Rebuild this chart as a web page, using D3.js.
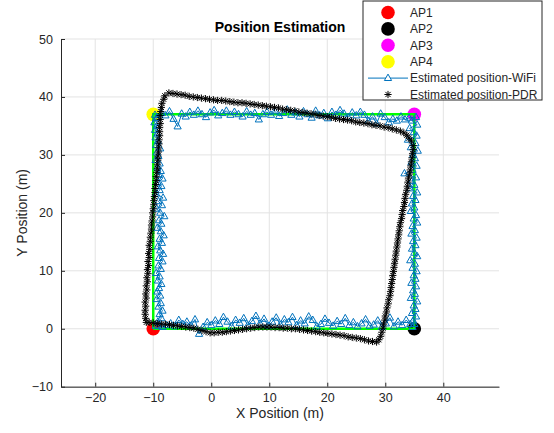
<!DOCTYPE html>
<html>
<head>
<meta charset="utf-8">
<script src="https://cdn.jsdelivr.net/npm/d3@7"></script>
<style>
  body { margin: 0; background: #fff; }
  text { font-family: "Liberation Sans", Arial, sans-serif; fill: #262626; }
</style>
</head>
<body>
<div id="chart"></div>
<script>
// access points
const apNames = ["AP1", "AP2", "AP3", "AP4"];
const apX = [-10, 35, 35, -10];
const apY = [0, 0, 37, 37];
const apColors = ["#ff0000", "#000000", "#ff00ff", "#ffff00"];

// ground truth walk (green)
const truthX = [-10, -10, 35, 35, -10];
const truthY = [0, 37, 37, 0, 0];

// WiFi estimates: left side up, top, right side down, bottom
const wifiX = [
  -9.6, -9.2, -8.6, -8.9, -8.4, -9.1, -8.7, -9.4, -8.8, -9.3, -9.0, -8.6, -9.2, -8.9, -9.5, -8.7, -9.1, -8.4, -9.0,
  -8.3, -8.8, -9.2, -8.5, -8.9, -8.2, -8.7, -9.3, -8.6, -9.0, -8.1, -8.8, -9.4, -8.5, -9.1, -8.3, -9.5, -8.9, -8.6,
  -9.2, -8.4, -9.0, -8.7, -9.3, -8.9, -9.6, -9.1, -9.4, -8.8, -9.5, -9.2, -9.6, -9.3, -9.7, -9.4, -9.8, -9.5, -9.7,
  -9.3, -8.6, -7.9, -7.2, -6.5, -5.8, -5.1, -4.4, -3.7, -3.0, -2.3, -1.6, -0.9, -0.2, 0.5, 1.2, 1.9, 2.6, 3.3, 4.0,
  4.7, 5.4, 6.1, 6.8, 7.5, 8.2, 8.9, 9.6, 10.3, 11.0, 11.7, 12.4, 13.1, 13.8, 14.5, 15.2, 15.9, 16.6, 17.3, 18.0,
  18.7, 19.4, 20.1, 20.8, 21.5, 22.2, 22.9, 23.6, 24.3, 25.0, 25.7, 26.4, 27.1, 27.8, 28.5, 29.2, 29.9, 30.6, 31.3,
  32.0, 32.7, 33.4, 34.1,
  35.3, 34.6, 35.5, 34.2, 34.9, 35.4, 33.9, 35.2, 34.4, 35.6, 34.8, 35.1, 34.5, 35.4, 34.7, 33.3, 35.3, 34.6, 35.0,
  34.3, 35.5, 34.8, 35.2, 34.6, 35.0, 34.4, 35.3, 34.9, 35.5, 34.7, 35.1, 34.5, 35.4, 34.8, 35.2, 34.6, 35.0, 35.5,
  34.3, 35.1, 34.7, 35.4, 34.9, 35.2, 34.5, 35.3, 34.8, 35.1, 34.4, 35.5, 34.9, 35.2, 34.6, 35.3, 34.8, 35.0, 34.7,
  34.3, 33.6, 32.9, 32.2, 31.5, 30.8, 30.1, 29.4, 28.7, 28.0, 27.3, 26.6, 25.9, 25.2, 24.5, 23.8, 23.1, 22.4, 21.7,
  21.0, 20.3, 19.6, 18.9, 18.2, 17.5, 16.8, 16.1, 15.4, 14.7, 14.0, 13.3, 12.6, 11.9, 11.2, 10.5, 9.8, 9.1, 8.4, 7.7,
  7.0, 6.3, 5.6, 4.9, 4.2, 3.5, 2.8, 2.1, 1.4, 0.7, 0.0, -0.7, -1.4, -2.1, -2.8, -3.5, -4.2, -4.9, -5.6, -6.3, -7.0,
  -7.7, -8.4, -9.1
];
const wifiY = [
  0.5, 1.2, 1.8, 2.5, 3.1, 3.8, 4.4, 5.1, 5.7, 6.4, 7.0, 7.7, 8.3, 9.0, 9.6, 10.3, 10.9, 11.6, 12.2, 12.9, 13.5,
  14.2, 14.8, 15.5, 16.1, 16.8, 17.4, 18.1, 18.7, 19.4, 20.0, 20.7, 21.3, 22.0, 22.6, 23.3, 23.9, 24.6, 25.2, 25.9,
  26.5, 27.2, 27.8, 28.5, 29.1, 29.8, 30.4, 31.1, 31.7, 32.4, 33.0, 33.7, 34.3, 35.0, 35.6, 36.3, 36.9,
  36.4, 37.2, 36.8, 37.5, 36.2, 34.9, 37.1, 36.6, 37.4, 36.9, 37.6, 37.0, 36.5, 37.3, 37.7, 36.8, 37.2, 37.6, 36.9,
  37.4, 37.0, 36.6, 37.5, 36.9, 37.2, 36.1, 37.0, 37.4, 36.9, 37.5, 36.7, 37.2, 37.8, 36.9, 37.3, 36.6, 37.5, 37.0,
  36.4, 37.6, 36.8, 37.2, 36.3, 37.4, 36.9, 37.7, 37.1, 36.5, 37.3, 36.8, 37.4, 36.9, 35.8, 36.6, 35.4, 37.1, 36.5,
  35.6, 36.2, 35.9, 36.6, 36.1, 36.4,
  36.5, 35.9, 35.2, 34.6, 33.9, 33.3, 32.6, 32.0, 31.3, 30.7, 30.0, 29.4, 28.7, 28.1, 27.4, 26.8, 26.1, 25.5, 24.8,
  24.2, 23.5, 22.9, 22.2, 21.6, 20.9, 20.3, 19.6, 19.0, 18.3, 17.7, 17.0, 16.4, 15.7, 15.1, 14.4, 13.8, 13.1, 12.5,
  11.8, 11.2, 10.5, 9.9, 9.2, 8.6, 7.9, 7.3, 6.6, 6.0, 5.3, 4.7, 4.0, 3.4, 2.7, 2.1, 1.4, 0.8, 0.3,
  0.8, 1.5, 0.6, 1.2, 0.4, 1.9, 0.9, 0.3, 1.4, 0.7, 0.5, 1.6, 0.9, 0.4, 1.1, 0.6, 1.8, 0.8, 1.3, 0.5, 1.0, 1.7, 0.8,
  0.4, 1.5, 2.1, 0.9, 1.4, 0.6, 2.0, 1.1, 1.6, 0.7, 1.9, 1.2, 0.5, 1.7, 0.9, 2.2, 1.3, 0.6, 1.8, 1.0, 1.5, 0.4, 1.2,
  2.0, 0.8, 1.4, 0.6, 1.1, 0.3, -0.9, 1.6, 0.5, 1.2, 0.8, 1.5, 0.4, 0.9, 0.6, 0.3, 0.5
];

// PDR estimates, same order
const pdrX = [
  -11.2, -11.3, -11.4, -11.4, -11.3, -11.4, -11.2, -11.3, -11.1, -11.2, -11.0, -11.1, -10.9, -11.0, -10.8, -10.9,
  -10.7, -10.8, -10.6, -10.7, -10.5, -10.5, -10.4, -10.3, -10.3, -10.2, -10.1, -10.1, -10.0, -9.9, -9.9, -9.8, -9.7,
  -9.7, -9.6, -9.5, -9.5, -9.4, -9.3, -9.3, -9.2, -9.2, -9.1, -9.1, -9.0, -9.0, -8.9, -8.9, -8.9, -8.8, -8.8, -8.8,
  -8.7, -8.6, -8.5, -8.2, -8.0,
  -7.3, -6.6, -5.9, -5.2, -4.5, -3.8, -3.1, -2.4, -1.7, -1.0, -0.3, 0.4, 1.1, 1.8, 2.5, 3.2, 3.9, 4.6, 5.3, 6.0, 6.7,
  7.4, 8.1, 8.8, 9.5, 10.2, 10.9, 11.6, 12.3, 13.0, 13.7, 14.4, 15.1, 15.8, 16.5, 17.2, 17.9, 18.6, 19.3, 20.0, 20.7,
  21.4, 22.1, 22.8, 23.5, 24.2, 24.9, 25.6, 26.3, 27.0, 27.7, 28.4, 29.1, 29.8, 30.5, 31.2, 31.9, 32.6, 33.2, 33.7,
  34.1, 34.5,
  34.8, 34.8, 34.7, 34.6, 34.5, 34.4, 34.3, 34.2, 34.0, 33.9, 33.8, 33.7, 33.5, 33.4, 33.3, 33.2, 33.0, 32.9, 32.8,
  32.6, 32.5, 32.4, 32.3, 32.2, 32.1, 32.0, 31.9, 31.8, 31.7, 31.6, 31.5, 31.4, 31.3, 31.2, 31.1, 31.0, 30.9, 30.8,
  30.6, 30.5, 30.3, 30.2, 30.0, 29.9, 29.7, 29.6, 29.4, 29.2, 28.9, 28.5,
  27.8, 27.1, 26.4, 25.7, 25.0, 24.3, 23.6, 22.9, 22.2, 21.5, 20.8, 20.1, 19.4, 18.7, 18.0, 17.3, 16.6, 15.9, 15.2,
  14.5, 13.8, 13.1, 12.4, 11.7, 11.0, 10.3, 9.6, 8.9, 8.2, 7.5, 6.8, 6.1, 5.4, 4.7, 4.0, 3.3, 2.6, 1.9, 1.2, 0.5,
  -0.2, -0.9, -1.6, -2.3, -3.0, -3.7, -4.4, -5.1, -5.8, -6.5, -7.2, -7.9, -8.6, -9.3, -10.0, -10.7
];
const pdrY = [
  1.1, 1.8, 2.5, 3.2, 3.9, 4.6, 5.3, 6.0, 6.7, 7.4, 8.1, 8.8, 9.5, 10.2, 10.9, 11.6, 12.3, 13.0, 13.7, 14.4, 15.1,
  15.8, 16.5, 17.2, 17.9, 18.6, 19.3, 20.0, 20.7, 21.4, 22.1, 22.8, 23.5, 24.2, 24.9, 25.6, 26.3, 27.0, 27.7, 28.4,
  29.1, 29.8, 30.5, 31.2, 31.9, 32.6, 33.3, 34.0, 34.7, 35.4, 36.1, 36.8, 37.5, 38.2, 38.9, 39.6, 40.2,
  40.7, 40.6, 40.5, 40.4, 40.3, 40.1, 40.0, 39.9, 39.8, 39.7, 39.6, 39.5, 39.4, 39.4, 39.3, 39.2, 39.1, 39.0, 39.0,
  38.9, 38.8, 38.7, 38.6, 38.5, 38.4, 38.3, 38.2, 38.1, 37.9, 37.8, 37.7, 37.6, 37.4, 37.3, 37.2, 37.1, 37.0, 36.8,
  36.7, 36.6, 36.5, 36.3, 36.2, 36.1, 36.0, 35.9, 35.7, 35.6, 35.5, 35.4, 35.2, 35.1, 35.0, 34.8, 34.7, 34.5, 34.3,
  34.1, 33.8, 33.4, 32.9, 32.4,
  31.6, 30.9, 30.2, 29.5, 28.8, 28.1, 27.4, 26.7, 26.0, 25.3, 24.6, 23.9, 23.2, 22.5, 21.8, 21.1, 20.4, 19.7, 19.0,
  18.3, 17.6, 16.9, 16.2, 15.5, 14.8, 14.1, 13.4, 12.7, 12.0, 11.3, 10.6, 9.9, 9.2, 8.5, 7.8, 7.1, 6.4, 5.7, 5.0, 4.3,
  3.6, 2.9, 2.2, 1.5, 0.8, 0.1, -0.6, -1.3, -1.9, -2.3,
  -2.2, -2.1, -1.9, -1.7, -1.6, -1.5, -1.4, -1.2, -1.1, -1.0, -0.9, -0.8, -0.7, -0.6, -0.5, -0.4, -0.3, -0.2, -0.1,
  0.0, 0.0, 0.1, 0.1, 0.2, 0.2, 0.3, 0.3, 0.3, 0.3, 0.2, 0.1, 0.0, -0.1, -0.2, -0.3, -0.4, -0.5, -0.6, -0.6, -0.7,
  -0.7, -0.5, -0.3, -0.1, 0.1, 0.2, 0.3, 0.4, 0.5, 0.6, 0.7, 0.8, 0.8, 0.9, 1.0, 1.1
];

const xTicks = [-20, -10, 0, 10, 20, 30, 40];
const yTicks = [-10, 0, 10, 20, 30, 40, 50];
const legendLabels = ["AP1", "AP2", "AP3", "AP4", "Estimated position-WiFi", "Estimated position-PDR"];

const width = 554, height = 433;
const plotLeft = 61, plotRight = 499, plotTop = 39, plotBottom = 386.7;
const wifiColor = "#0072BD";

const svg = d3.select("#chart").append("svg")
  .attr("width", width)
  .attr("height", height);

const x = d3.scaleLinear().domain([-25.9, 49.6]).range([plotLeft, plotRight]);
const y = d3.scaleLinear().domain([-10, 50]).range([plotBottom, plotTop]);

// grid
svg.append("g").selectAll("line").data(xTicks).enter().append("line")
  .attr("x1", d => x(d)).attr("x2", d => x(d))
  .attr("y1", plotTop).attr("y2", plotBottom)
  .attr("stroke", "#e3e3e3").attr("stroke-width", 1);
svg.append("g").selectAll("line").data(yTicks).enter().append("line")
  .attr("x1", plotLeft).attr("x2", plotRight)
  .attr("y1", d => y(d)).attr("y2", d => y(d))
  .attr("stroke", "#e3e3e3").attr("stroke-width", 1);

// axes (ticks pointing inward like MATLAB)
const xAxis = svg.append("g")
  .attr("transform", `translate(0,${plotBottom})`)
  .call(d3.axisBottom(x).tickValues(xTicks).tickSizeInner(-4).tickSizeOuter(0).tickPadding(6));
const yAxis = svg.append("g")
  .attr("transform", `translate(${plotLeft},0)`)
  .call(d3.axisLeft(y).tickValues(yTicks).tickSizeInner(-4).tickSizeOuter(0).tickPadding(8));
[xAxis, yAxis].forEach(a => {
  a.select(".domain").attr("stroke", "#262626");
  a.selectAll(".tick line").attr("stroke", "#262626");
  a.selectAll(".tick text").style("font-size", "12.5px").attr("fill", "#262626")
    .style("font-family", '"Liberation Sans", Arial, sans-serif');
});

// access point markers
svg.append("g").selectAll("circle").data(apX).enter().append("circle")
  .attr("cx", d => x(d))
  .attr("cy", (d, i) => y(apY[i]))
  .attr("r", 6.8)
  .attr("fill", (d, i) => apColors[i]);

// ground truth
const line = d3.line().x(d => x(d[0])).y(d => y(d[1]));
svg.append("path")
  .datum(truthX.map((d, i) => [d, truthY[i]]))
  .attr("d", line)
  .attr("fill", "none")
  .attr("stroke", "#00ff00")
  .attr("stroke-width", 2.5);

// WiFi
const wifiPts = wifiX.map((d, i) => [d, wifiY[i]]);
svg.append("path")
  .datum(wifiPts)
  .attr("d", line)
  .attr("fill", "none")
  .attr("stroke", wifiColor)
  .attr("stroke-width", 1);
const triangle = "M0,-4L3.6,2.4L-3.6,2.4Z";
svg.append("g").selectAll("path").data(wifiPts).enter().append("path")
  .attr("d", triangle)
  .attr("transform", d => `translate(${x(d[0])},${y(d[1])})`)
  .attr("fill", "none")
  .attr("stroke", wifiColor)
  .attr("stroke-width", 1);

// PDR
const star = "M-3.6,0H3.6M0,-3.6V3.6M-2.6,-2.6L2.6,2.6M-2.6,2.6L2.6,-2.6";
svg.append("g").selectAll("path").data(pdrX).enter().append("path")
  .attr("d", star)
  .attr("transform", (d, i) => `translate(${x(d)},${y(pdrY[i])})`)
  .attr("stroke", "#000")
  .attr("stroke-width", 1);

// title and labels
svg.append("text")
  .attr("x", (plotLeft + plotRight) / 2).attr("y", 32)
  .attr("text-anchor", "middle")
  .style("font-size", "14px").style("font-weight", "bold")
  .style("fill", "#000")
  .text("Position Estimation");
svg.append("text")
  .attr("x", (plotLeft + plotRight) / 2).attr("y", 418)
  .attr("text-anchor", "middle")
  .style("font-size", "14px")
  .text("X Position (m)");
svg.append("text")
  .attr("transform", `translate(27,${(plotTop + plotBottom) / 2}) rotate(-90)`)
  .attr("text-anchor", "middle")
  .style("font-size", "14px")
  .text("Y Position (m)");

// legend
const lg = svg.append("g").attr("transform", "translate(363,1)");
lg.append("rect")
  .attr("width", 179).attr("height", 99)
  .attr("fill", "#fff").attr("stroke", "#262626").attr("stroke-width", 1);
const rowY = i => 11.5 + i * 16.4;
legendLabels.forEach((label, i) => {
  const g = lg.append("g").attr("transform", `translate(0,${rowY(i)})`);
  if (i < 4) {
    g.append("circle").attr("cx", 25).attr("r", 6.8).attr("fill", apColors[i]);
  } else if (i === 4) {
    g.append("line").attr("x1", 5).attr("x2", 45)
      .attr("stroke", wifiColor).attr("stroke-width", 1);
    g.append("path").attr("d", triangle).attr("transform", "translate(25,0)")
      .attr("fill", "#fff").attr("stroke", wifiColor);
  } else {
    g.append("path").attr("d", star).attr("transform", "translate(25,0)")
      .attr("stroke", "#000").attr("stroke-width", 1);
  }
  g.append("text").attr("x", 47).attr("dy", "0.35em")
    .style("font-size", "12px")
    .text(label);
});
</script>
</body>
</html>
